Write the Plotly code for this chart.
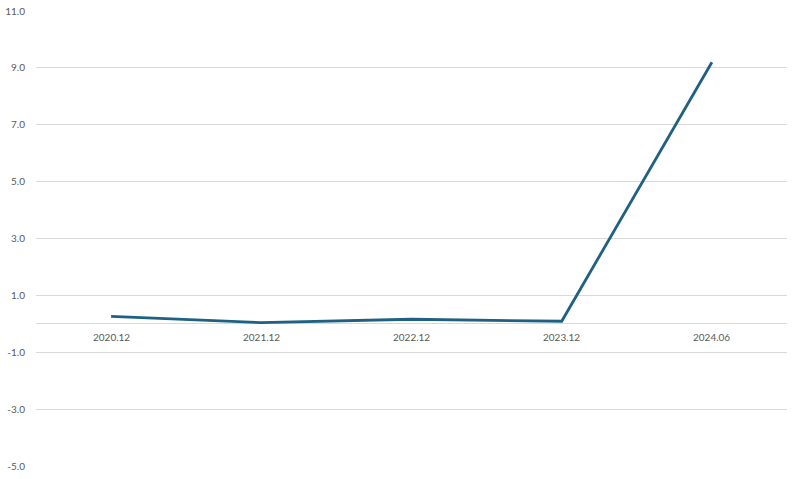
import plotly.graph_objects as go

categories = ["2020.12", "2021.12", "2022.12", "2023.12", "2024.06"]
values = [0.26, 0.04, 0.16, 0.09, 9.2]
y_ticks = [-5, -3, -1, 1, 3, 5, 7, 9, 11]
y_tick_labels = ["-5.0", "-3.0", "-1.0", "1.0", "3.0", "5.0", "7.0", "9.0", "11.0"]

fig = go.Figure()
fig.add_trace(go.Scatter(
    x=categories, y=values, mode="lines",
    line=dict(color="#1F6182", width=2.8),
    hoverinfo="skip", showlegend=False,
))

for i, c in enumerate(categories):
    fig.add_annotation(x=i, y=0, xref="x", yref="y", text=c, showarrow=False,
                       yshift=-13, font=dict(size=10, color="#595959", family="Lato"))

fig.update_layout(
    template="none",
    width=800, height=479, autosize=False,
    margin=dict(l=36, r=13, t=11, b=13, pad=0),
    paper_bgcolor="white", plot_bgcolor="white",
    font=dict(family="Lato", size=10, color="#595959"),
    xaxis=dict(type="category", showticklabels=False, showgrid=False, zeroline=False,
               showline=False, range=[-0.5, 4.5], automargin=False),
    yaxis=dict(range=[-5, 11], tickvals=y_ticks, ticktext=y_tick_labels,
               color="#595959",
               showgrid=True, gridcolor="#D9D9D9", gridwidth=1,
               zeroline=True, zerolinecolor="#D9D9D9", zerolinewidth=1,
               showline=False, ticks="", ticklabelstandoff=10, automargin=False,
               tickfont=dict(size=10, color="#595959", family="Lato")),
)

fig.write_html("out.html", config={"displayModeBar": False},
               post_script="document.body.style.margin='0';")
